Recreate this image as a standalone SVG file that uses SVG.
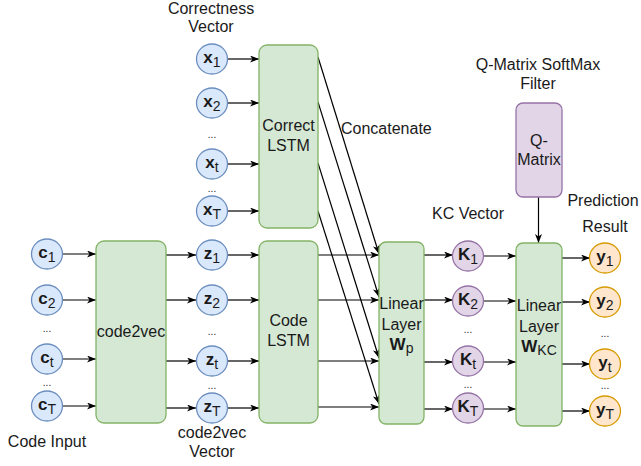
<svg xmlns="http://www.w3.org/2000/svg" width="641" height="466" viewBox="0 0 641 466">
<defs>
<marker id="arr" markerUnits="userSpaceOnUse" markerWidth="10" markerHeight="8" refX="9" refY="3.5" orient="auto">
<path d="M0,0 L9,3.5 L0,7 L2.5,3.5 z" fill="#000"/>
</marker>
</defs>
<style>
text{font-family:"Liberation Sans",Arial,sans-serif;fill:#1a1a1a}
.lbl{font-size:16px;text-anchor:middle}
.nt{font-size:17px;text-anchor:middle}
.b{font-weight:bold}
.s{font-size:14px}
.dots{font-size:10px;text-anchor:middle}
.blue{fill:#dae8fc;stroke:#6c8ebf;stroke-width:1.3}
.green{fill:#d5e8d4;stroke:#82b366;stroke-width:1.3}
.purple{fill:#e1d5e7;stroke:#9673a6;stroke-width:1.3}
.orange{fill:#ffe6cc;stroke:#d79b00;stroke-width:1.3}
.e{stroke:#000;stroke-width:1.2;fill:none;marker-end:url(#arr)}
</style>
<rect width="641" height="466" fill="#fff"/>

<g id="connectors">
<line class="e" x1="62" y1="254" x2="96" y2="254"/>
<line class="e" x1="62" y1="300" x2="96" y2="300"/>
<line class="e" x1="62" y1="359" x2="96" y2="359"/>
<line class="e" x1="62" y1="406" x2="96" y2="406"/>
<line class="e" x1="166" y1="255" x2="196" y2="255"/>
<line class="e" x1="166" y1="300" x2="196" y2="300"/>
<line class="e" x1="166" y1="361" x2="196" y2="361"/>
<line class="e" x1="166" y1="408" x2="196" y2="408"/>
<line class="e" x1="227" y1="255" x2="259" y2="255"/>
<line class="e" x1="227" y1="300" x2="259" y2="300"/>
<line class="e" x1="227" y1="361" x2="259" y2="361"/>
<line class="e" x1="227" y1="408" x2="259" y2="408"/>
<line class="e" x1="227" y1="59" x2="259" y2="59"/>
<line class="e" x1="227" y1="103" x2="259" y2="103"/>
<line class="e" x1="227" y1="164" x2="259" y2="164"/>
<line class="e" x1="227" y1="211" x2="259" y2="211"/>
<line class="e" x1="318" y1="255" x2="379" y2="255"/>
<line class="e" x1="318" y1="300" x2="379" y2="300"/>
<line class="e" x1="318" y1="361" x2="379" y2="361"/>
<line class="e" x1="318" y1="407" x2="379" y2="407"/>
<line class="e" x1="318" y1="57" x2="379" y2="254"/>
<line class="e" x1="318" y1="102" x2="379" y2="297"/>
<line class="e" x1="318" y1="163" x2="379" y2="358"/>
<line class="e" x1="318" y1="211" x2="379" y2="404"/>
<line class="e" x1="424" y1="255" x2="453" y2="255"/>
<line class="e" x1="424" y1="300" x2="453" y2="300"/>
<line class="e" x1="424" y1="362" x2="453" y2="362"/>
<line class="e" x1="424" y1="409" x2="453" y2="409"/>
<line class="e" x1="483" y1="256" x2="516" y2="256"/>
<line class="e" x1="483" y1="301" x2="516" y2="301"/>
<line class="e" x1="483" y1="362" x2="516" y2="362"/>
<line class="e" x1="483" y1="409" x2="516" y2="409"/>
<line class="e" x1="562" y1="258" x2="590" y2="258"/>
<line class="e" x1="562" y1="302" x2="590" y2="302"/>
<line class="e" x1="562" y1="364" x2="590" y2="364"/>
<line class="e" x1="562" y1="411" x2="590" y2="411"/>
<line class="e" x1="538.5" y1="197" x2="538.5" y2="243"/>
</g>

<g id="labels">
<text class="lbl" x="211" y="14">Correctness</text>
<text class="lbl" x="211" y="32">Vector</text>
<text class="lbl" x="47" y="447">Code Input</text>
<text class="lbl" x="212" y="438">code2vec</text>
<text class="lbl" x="212" y="457">Vector</text>
<text x="341" y="134" style="font-size:16px">Concatenate</text>
<text class="lbl" x="468" y="219">KC Vector</text>
<text class="lbl" x="538" y="70">Q-Matrix SoftMax</text>
<text class="lbl" x="538" y="89">Filter</text>
<text class="lbl" x="603" y="206">Prediction</text>
<text class="lbl" x="605" y="232">Result</text>
</g>

<g id="code2vec"><rect class="green" x="96" y="241" width="70" height="182" rx="8"/><text class="lbl" x="131" y="337">code2vec</text></g>
<g id="correct-lstm"><rect class="green" x="259" y="45" width="59" height="183" rx="8"/><text class="lbl" x="288.5" y="131">Correct</text><text class="lbl" x="288.5" y="151">LSTM</text></g>
<g id="code-lstm"><rect class="green" x="259" y="241" width="59" height="182" rx="8"/><text class="lbl" x="288.5" y="326">Code</text><text class="lbl" x="288.5" y="346">LSTM</text></g>
<g id="linear-wp"><rect class="green" x="379" y="242" width="45" height="182" rx="7"/><text class="lbl" x="401.5" y="309">Linear</text><text class="lbl" x="401.5" y="330">Layer</text><text class="nt" x="401.5" y="350"><tspan class="b">W</tspan><tspan class="s" dy="3">p</tspan></text></g>
<g id="linear-wkc"><rect class="green" x="516" y="243" width="46" height="183" rx="7"/><text class="lbl" x="539" y="311">Linear</text><text class="lbl" x="539" y="332">Layer</text><text class="nt" x="539" y="352"><tspan class="b">W</tspan><tspan class="s" dy="3">KC</tspan></text></g>
<g id="q-matrix"><rect class="purple" x="516" y="103" width="46" height="94" rx="7"/><text class="lbl" x="539" y="146">Q-</text><text class="lbl" x="539" y="165">Matrix</text></g>

<g id="c1"><ellipse class="blue" cx="47" cy="254" rx="15.5" ry="15"/><text class="nt" x="47" y="258"><tspan class="b">c</tspan><tspan class="s" dy="4">1</tspan></text></g>
<g id="c2"><ellipse class="blue" cx="47" cy="300" rx="15.5" ry="15"/><text class="nt" x="47" y="304"><tspan class="b">c</tspan><tspan class="s" dy="4">2</tspan></text></g>
<text class="dots" x="47" y="332">...</text>
<g id="ct"><ellipse class="blue" cx="47" cy="359" rx="15.5" ry="15"/><text class="nt" x="47" y="363"><tspan class="b">c</tspan><tspan class="s" dy="4">t</tspan></text></g>
<text class="dots" x="47" y="386">...</text>
<g id="cT"><ellipse class="blue" cx="47" cy="406" rx="15.5" ry="15"/><text class="nt" x="47" y="410"><tspan class="b">c</tspan><tspan class="s" dy="4">T</tspan></text></g>

<g id="x1"><ellipse class="blue" cx="212" cy="59" rx="15.5" ry="15"/><text class="nt" x="212" y="63"><tspan class="b">x</tspan><tspan class="s" dy="4">1</tspan></text></g>
<g id="x2"><ellipse class="blue" cx="212" cy="103" rx="15.5" ry="15"/><text class="nt" x="212" y="107"><tspan class="b">x</tspan><tspan class="s" dy="4">2</tspan></text></g>
<text class="dots" x="212" y="138">...</text>
<g id="xt"><ellipse class="blue" cx="212" cy="164" rx="15.5" ry="15"/><text class="nt" x="212" y="168"><tspan class="b">x</tspan><tspan class="s" dy="4">t</tspan></text></g>
<text class="dots" x="212" y="192">...</text>
<g id="xT"><ellipse class="blue" cx="212" cy="211" rx="15.5" ry="15"/><text class="nt" x="212" y="215"><tspan class="b">x</tspan><tspan class="s" dy="4">T</tspan></text></g>

<g id="z1"><ellipse class="blue" cx="212" cy="255" rx="15.5" ry="15"/><text class="nt" x="212" y="259"><tspan class="b">z</tspan><tspan class="s" dy="4">1</tspan></text></g>
<g id="z2"><ellipse class="blue" cx="212" cy="300" rx="15.5" ry="15"/><text class="nt" x="212" y="304"><tspan class="b">z</tspan><tspan class="s" dy="4">2</tspan></text></g>
<text class="dots" x="212" y="335">...</text>
<g id="zt"><ellipse class="blue" cx="212" cy="361" rx="15.5" ry="15"/><text class="nt" x="212" y="365"><tspan class="b">z</tspan><tspan class="s" dy="4">t</tspan></text></g>
<text class="dots" x="212" y="389">...</text>
<g id="zT"><ellipse class="blue" cx="212" cy="408" rx="15.5" ry="15"/><text class="nt" x="212" y="412"><tspan class="b">z</tspan><tspan class="s" dy="4">T</tspan></text></g>

<g id="K1"><ellipse class="purple" cx="468" cy="256" rx="15.5" ry="15"/><text class="nt" x="468" y="260"><tspan class="b">K</tspan><tspan class="s" dy="4">1</tspan></text></g>
<g id="K2"><ellipse class="purple" cx="468" cy="301" rx="15.5" ry="15"/><text class="nt" x="468" y="305"><tspan class="b">K</tspan><tspan class="s" dy="4">2</tspan></text></g>
<text class="dots" x="468" y="333">...</text>
<g id="Kt"><ellipse class="purple" cx="468" cy="361" rx="15.5" ry="15"/><text class="nt" x="468" y="365"><tspan class="b">K</tspan><tspan class="s" dy="4">t</tspan></text></g>
<text class="dots" x="468" y="388">...</text>
<g id="KT"><ellipse class="purple" cx="468" cy="408" rx="15.5" ry="15"/><text class="nt" x="468" y="412"><tspan class="b">K</tspan><tspan class="s" dy="4">T</tspan></text></g>

<g id="y1"><ellipse class="orange" cx="605" cy="258" rx="15.5" ry="15"/><text class="nt" x="605" y="262"><tspan class="b">y</tspan><tspan class="s" dy="4">1</tspan></text></g>
<g id="y2"><ellipse class="orange" cx="605" cy="302" rx="15.5" ry="15"/><text class="nt" x="605" y="306"><tspan class="b">y</tspan><tspan class="s" dy="4">2</tspan></text></g>
<text class="dots" x="605" y="337">...</text>
<g id="yt"><ellipse class="orange" cx="605" cy="364" rx="15.5" ry="15"/><text class="nt" x="605" y="368"><tspan class="b">y</tspan><tspan class="s" dy="4">t</tspan></text></g>
<text class="dots" x="605" y="389">...</text>
<g id="yT"><ellipse class="orange" cx="605" cy="411" rx="15.5" ry="15"/><text class="nt" x="605" y="415"><tspan class="b">y</tspan><tspan class="s" dy="4">T</tspan></text></g>
</svg>
